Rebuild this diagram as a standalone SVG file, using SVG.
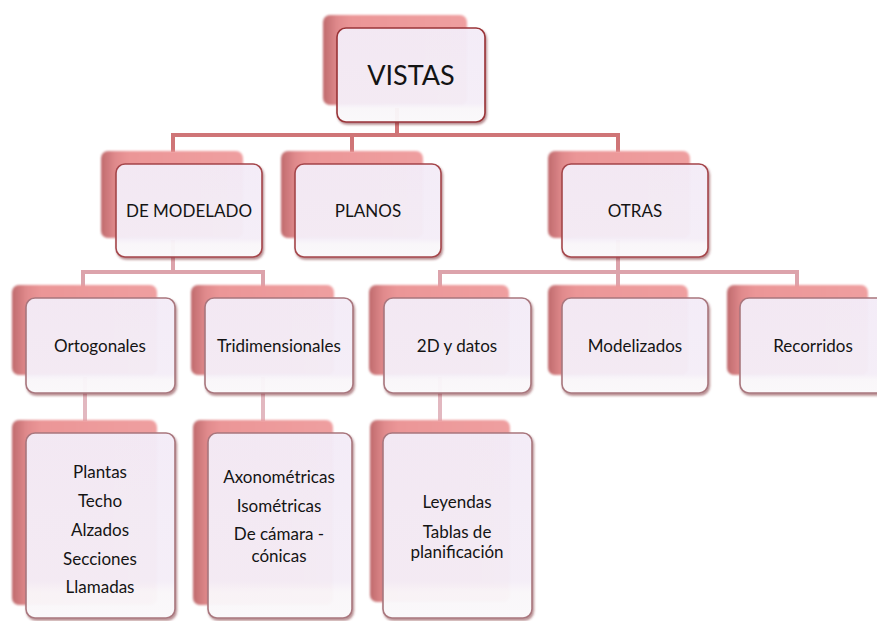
<svg xmlns="http://www.w3.org/2000/svg" width="877" height="621" viewBox="0 0 877 621">
<style>
  .bg{fill:#ffffff}
  .sh{fill:url(#gSh);filter:url(#fBlur)}
  .fr{fill:url(#gFr);stroke-width:1.6;filter:url(#fDrop)}
  .k1{stroke:#9a3438}
  .k2{stroke:#a5464b}
  .k3{stroke:#a9777e}
  .t{font-family:Lato,"Open Sans","Liberation Sans",sans-serif;fill:#141414;text-anchor:middle}
  .tb{font-size:27px}
  .tm{font-size:17px}
  .c1{fill:none;stroke:#cf7577;stroke-width:4}
  .c2{fill:none;stroke:#dca3ab;stroke-width:4}
  .c3{fill:none;stroke:#e2b8c0;stroke-width:4}
</style>
<defs>
  <linearGradient id="gSh" x1="0" y1="0" x2="1" y2="0">
    <stop offset="0" stop-color="#bf6a6d"/>
    <stop offset="0.1" stop-color="#e08a8c"/>
    <stop offset="0.2" stop-color="#eb9697"/>
    <stop offset="1" stop-color="#ef9fa0"/>
  </linearGradient>
  <linearGradient id="gFr" x1="0" y1="0" x2="0" y2="1">
    <stop offset="0" stop-color="#f6effb"/>
    <stop offset="0.8" stop-color="#f7f1fb"/>
    <stop offset="0.86" stop-color="#fcfafd"/>
    <stop offset="1" stop-color="#fdfcfe"/>
  </linearGradient>
  <filter id="fBlur" x="-10%" y="-10%" width="120%" height="120%">
    <feGaussianBlur stdDeviation="1"/>
  </filter>
  <filter id="fDrop" x="-10%" y="-10%" width="125%" height="125%">
    <feDropShadow dx="1.2" dy="2" stdDeviation="0.8" flood-color="#7a2a2e" flood-opacity="0.55"/>
  </filter>
</defs>
<rect class="bg" x="0" y="0" width="877" height="621"/>

<g id="connectors">
  <path class="c1" d="M397,108 V135 M173,135 H618 M173,133 V152 M352,133 V152 M618,133 V152"/>
  <path class="c2" d="M173,240 V272 M83,272 H263 M83,270 V287 M263,270 V287"/>
  <path class="c2" d="M618,240 V272 M440,272 H797 M440,270 V287 M618,270 V287 M797,270 V287"/>
  <path class="c3" d="M85,377 V421 M263,377 V421 M440,377 V421"/>
</g>

<g id="vistas">
  <rect class="sh" x="323" y="15" width="144" height="90" rx="7"/>
  <rect class="fr k1" x="337" y="28" width="148" height="94" rx="9" fill-opacity="0.93"/>
  <text class="t tb" x="411" y="85">VISTAS</text>
</g>

<g id="de-modelado">
  <rect class="sh" x="101" y="151" width="142" height="87" rx="7"/>
  <rect class="fr k2" x="116" y="164" width="146" height="93" rx="9" fill-opacity="0.93"/>
  <text class="t tm" x="189" y="217">DE MODELADO</text>
</g>

<g id="planos">
  <rect class="sh" x="281" y="151" width="142" height="87" rx="7"/>
  <rect class="fr k2" x="295" y="164" width="146" height="93" rx="9" fill-opacity="0.93"/>
  <text class="t tm" x="368" y="217">PLANOS</text>
</g>

<g id="otras">
  <rect class="sh" x="548" y="151" width="142" height="87" rx="7"/>
  <rect class="fr k2" x="562" y="164" width="146" height="93" rx="9" fill-opacity="0.93"/>
  <text class="t tm" x="635" y="217">OTRAS</text>
</g>

<g id="ortogonales">
  <rect class="sh" x="12" y="285" width="145" height="90" rx="7"/>
  <rect class="fr k3" x="26" y="298" width="149" height="95" rx="9" fill-opacity="0.93"/>
  <text class="t tm" x="100" y="352">Ortogonales</text>
</g>

<g id="tridimensionales">
  <rect class="sh" x="191" y="285" width="143" height="90" rx="7"/>
  <rect class="fr k3" x="205" y="298" width="148" height="95" rx="9" fill-opacity="0.93"/>
  <text class="t tm" x="279" y="352">Tridimensionales</text>
</g>

<g id="2d-y-datos">
  <rect class="sh" x="369" y="285" width="140" height="90" rx="7"/>
  <rect class="fr k3" x="384" y="298" width="147" height="95" rx="9" fill-opacity="0.93"/>
  <text class="t tm" x="457" y="352">2D y datos</text>
</g>

<g id="modelizados">
  <rect class="sh" x="548" y="285" width="140" height="90" rx="7"/>
  <rect class="fr k3" x="562" y="298" width="146" height="95" rx="9" fill-opacity="0.93"/>
  <text class="t tm" x="635" y="352">Modelizados</text>
</g>

<g id="recorridos">
  <rect class="sh" x="727" y="285" width="141" height="90" rx="7"/>
  <rect class="fr k3" x="740" y="298" width="146" height="95" rx="9" fill-opacity="0.93"/>
  <text class="t tm" x="813" y="352">Recorridos</text>
</g>

<g id="ortogonales-lista">
  <rect class="sh" x="12" y="420" width="145" height="185" rx="7"/>
  <rect class="fr k3" x="26" y="433" width="149" height="185" rx="9" fill-opacity="0.93"/>
  <text class="t tm" x="100" y="478">Plantas</text>
  <text class="t tm" x="100" y="507">Techo</text>
  <text class="t tm" x="100" y="536">Alzados</text>
  <text class="t tm" x="100" y="565">Secciones</text>
  <text class="t tm" x="100" y="593">Llamadas</text>
</g>

<g id="tridimensionales-lista">
  <rect class="sh" x="193" y="420" width="140" height="185" rx="7"/>
  <rect class="fr k3" x="208" y="433" width="144" height="185" rx="9" fill-opacity="0.93"/>
  <text class="t tm" x="279" y="483">Axonométricas</text>
  <text class="t tm" x="279" y="512">Isométricas</text>
  <text class="t tm" x="279" y="540">De cámara -</text>
  <text class="t tm" x="279" y="562">cónicas</text>
</g>

<g id="2d-lista">
  <rect class="sh" x="370" y="420" width="140" height="182" rx="7"/>
  <rect class="fr k3" x="383" y="433" width="149" height="185" rx="9" fill-opacity="0.93"/>
  <text class="t tm" x="457" y="508">Leyendas</text>
  <text class="t tm" x="457" y="538">Tablas de</text>
  <text class="t tm" x="457" y="558">planificación</text>
</g>
</svg>
